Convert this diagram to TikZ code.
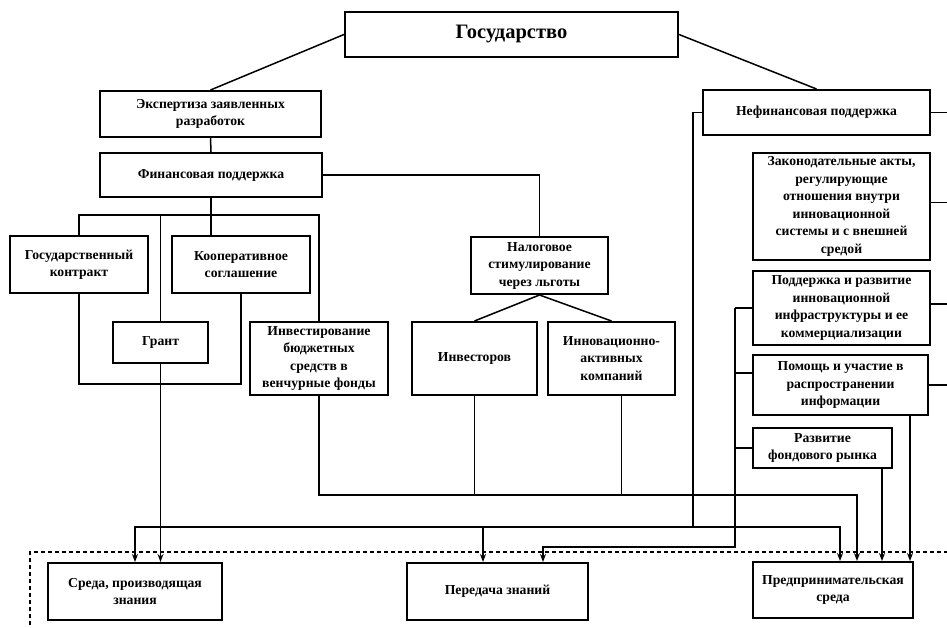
\documentclass[tikz,border=0pt]{standalone}
\usepackage{fontspec}
\setmainfont{Liberation Serif}
\usetikzlibrary{arrows.meta}
\tikzset{
  box/.style={draw, line width=2pt, align=center, inner sep=1pt,
    font=\bfseries\fontsize{13.7}{17.5}\selectfont},
  conn/.style={line width=1.5pt},
  arr/.style={conn, -{Stealth[length=8pt,width=6pt]}},
  frame/.style={line width=1.5pt, dash pattern=on 4pt off 3pt},
}
\begin{document}
\begin{tikzpicture}[x=1pt,y=-1pt]
\useasboundingbox (0,0) rectangle (947,628);
% boxes
\node[box, minimum width=333pt, minimum height=45pt, font=\bfseries\fontsize{20.5}{24}\selectfont] (gos) at (511.5,34.5) {Государство};
\node[box, minimum width=221pt, minimum height=46pt] (exp) at (210.5,114) {Экспертиза заявленных\\разработок};
\node[box, minimum width=222pt, minimum height=44pt] (fin) at (211,175) {Финансовая поддержка};
\node[box, minimum width=138pt, minimum height=57pt] (gk) at (79,264.5) {Государственный\\контракт};
\node[box, minimum width=138pt, minimum height=57pt] (koop) at (241,264.5) {Кооперативное\\соглашение};
\node[box, minimum width=95pt, minimum height=41pt] (grant) at (160.5,342.5) {Грант};
\node[box, minimum width=138pt, minimum height=73pt] (inv) at (319,358.5) {Инвестирование\\бюджетных\\средств в\\венчурные фонды};
\node[box, minimum width=137pt, minimum height=57pt] (nal) at (539.5,265.5) {Налоговое\\стимулирование\\через льготы};
\node[box, minimum width=125pt, minimum height=73pt] (invs) at (474.5,358.5) {Инвесторов};
\node[box, minimum width=127pt, minimum height=73pt] (innov) at (611.5,358.5) {Инновационно-\\активных\\компаний};
\node[box, minimum width=227pt, minimum height=45pt] (nefin) at (816.5,112.5) {Нефинансовая поддержка};
\node[box, minimum width=177pt, minimum height=107pt] (zak) at (841.5,206.5) {Законодательные акты,\\регулирующие\\отношения внутри\\инновационной\\системы и с внешней\\средой};
\node[box, minimum width=177pt, minimum height=74pt] (podd) at (841.5,308) {Поддержка и развитие\\инновационной\\инфраструктуры и ее\\коммерциализации};
\node[box, minimum width=175pt, minimum height=60pt] (pom) at (840.5,385) {Помощь и участие в\\распространении\\информации};
\node[box, minimum width=139pt, minimum height=40pt] (razv) at (822.5,448) {Развитие\\фондового рынка};
\node[box, minimum width=174pt, minimum height=57pt] (sreda) at (135,591.5) {Среда, производящая\\знания};
\node[box, minimum width=181pt, minimum height=57pt] (pered) at (497.5,591.5) {Передача знаний};
\node[box, minimum width=160pt, minimum height=56pt] (pred) at (833,590) {Предпринимательская\\среда};
% helper coordinates
\coordinate (barY) at (0,215);
\coordinate (uY) at (0,384);
\coordinate (c495) at (0,495);
\coordinate (c527) at (693,527);
\coordinate (c547) at (0,547);
\coordinate (brk) at (735,0);
\coordinate (dA) at (30,632);
\coordinate (dB) at (30,552);
\coordinate (dC) at (950,552);
% upper connectors
\draw[conn] (gos.west) -- (exp.north);
\draw[conn] (gos.east) -- (nefin.north);
\draw[conn] (exp.south) -- (fin.north);
\draw[conn] (fin.south) -- (fin.south |- koop.north);
\draw[conn] (gk.north) -- (gk.north |- barY) -- (inv.north |- barY) -- (inv.north);
\draw[conn] (grant.north) -- (grant.north |- barY);
\draw[conn] (gk.south) -- (gk.south |- uY) -| (koop.south);
\draw[arr] (grant.south) -- (grant.south |- sreda.north);
\draw[conn] (fin.east) -| (nal.north);
\draw[conn] (nal.south) -- (invs.north);
\draw[conn] (nal.south) -- (innov.north);
% collector at 495
\draw[arr] (inv.south) |- ([xshift=24pt]pred.north |- c495) -- ([xshift=24pt]pred.north);
\draw[conn] (invs.south) -- (invs.south |- c495);
\draw[conn] ([xshift=10pt]innov.south) -- ([xshift=10pt]innov.south |- c495);
% non-financial line at 527
\draw[conn] (nefin.west) -- (c527 |- nefin.west) -- (c527);
\draw[arr] (c527) -| (sreda.north);
\draw[arr] (c527) -| ([xshift=7pt]pred.north);
\draw[arr] ([xshift=-14.5pt]pered.north |- c527) -- ([xshift=-14.5pt]pered.north);
% bracket at 735
\draw[conn] (podd.west) -- (brk |- podd.west);
\draw[conn] ([yshift=12pt]pom.west) -- ++(-18,0);
\draw[conn] (razv.west) -- (brk |- razv.west);
\draw[arr] (brk |- podd.west) -- (brk |- c547) -| ([xshift=45.5pt]pered.north);
% drops to pred
\draw[arr] ([xshift=69.5pt]pom.south) -- ([xshift=69.5pt]pom.south |- pred.north);
\draw[arr] ([xshift=59.5pt]razv.south) -- ([xshift=59.5pt]razv.south |- pred.north);
% right stubs
\draw[conn] (nefin.east) -- ++(20,0);
\draw[conn] ([yshift=4pt]zak.east) -- ++(20,0);
\draw[conn] ([yshift=4pt]podd.east) -- ++(20,0);
\draw[conn] (pom.east) -- ++(22,0);
% dashed frame
\draw[frame] (dA) -- (dB) -- (dC);
\end{tikzpicture}
\end{document}
